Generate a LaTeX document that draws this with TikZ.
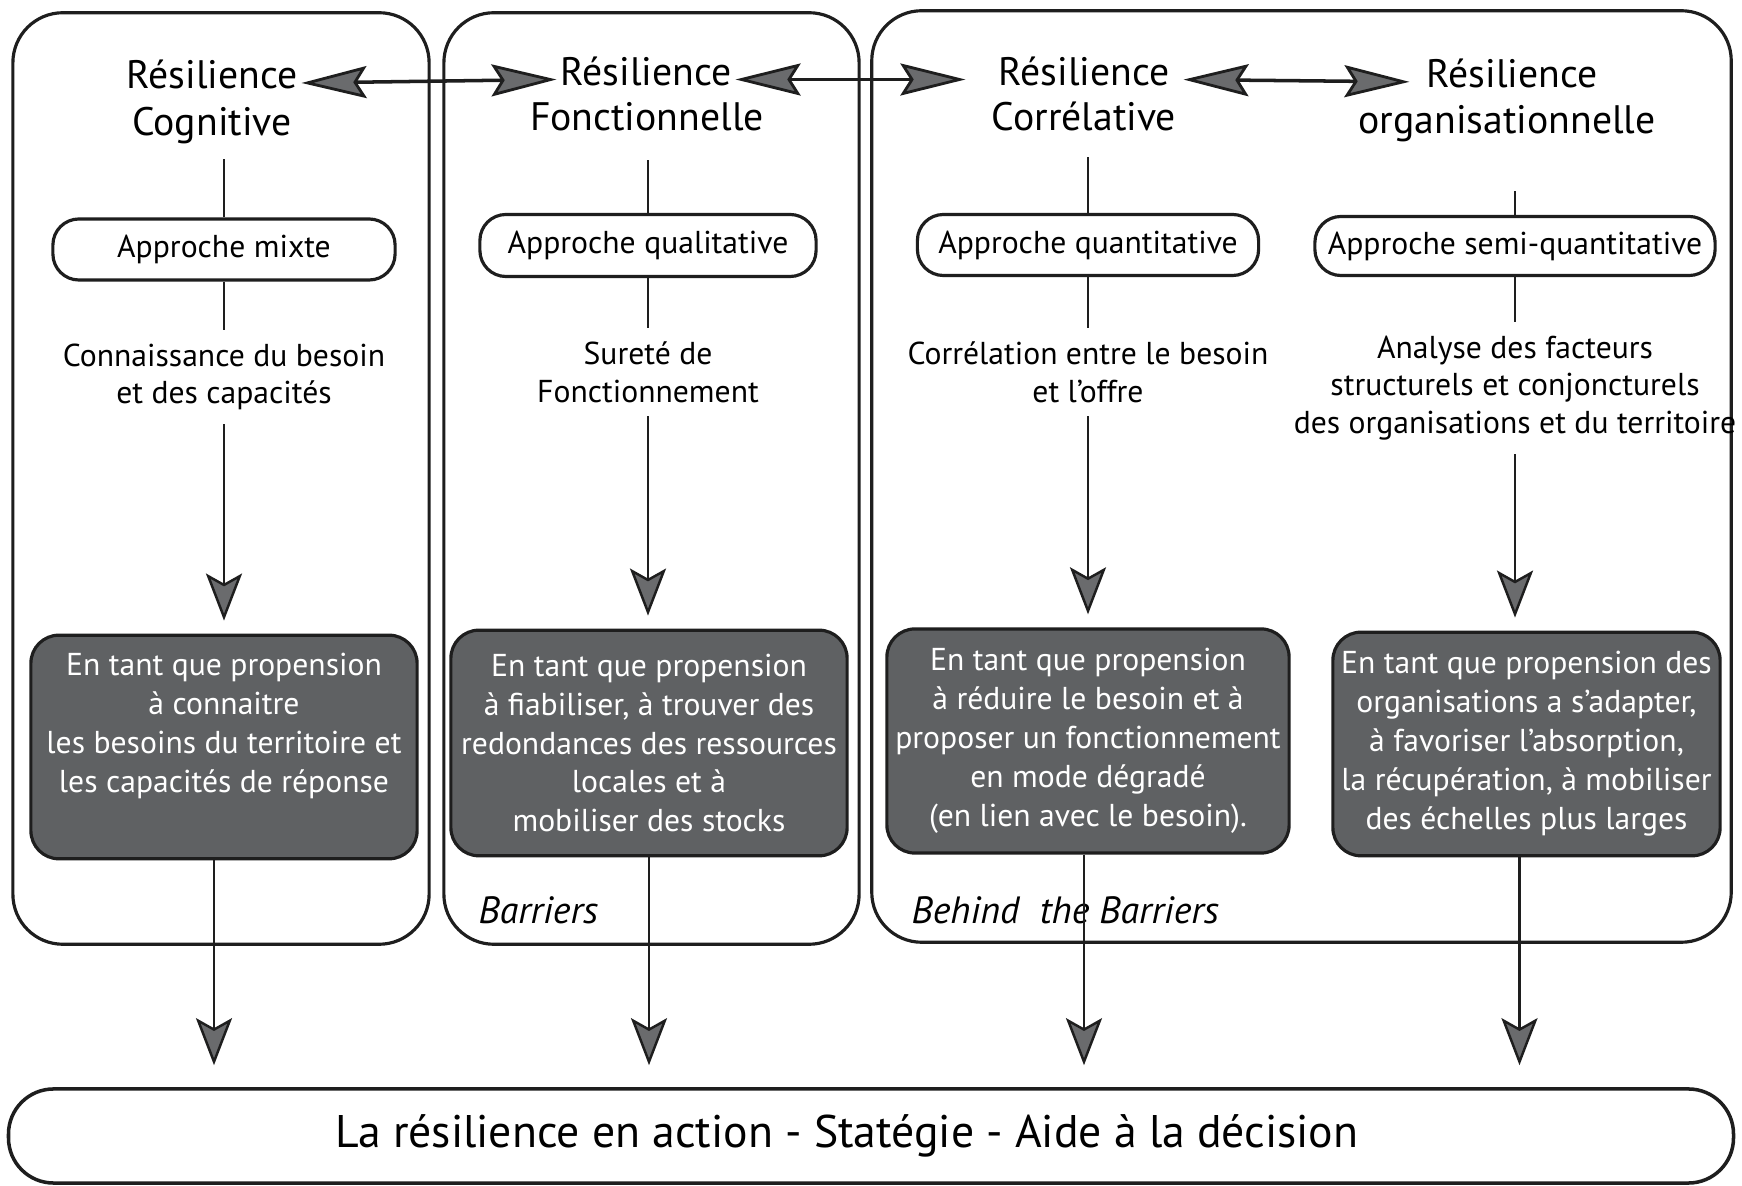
\documentclass[tikz,border=0pt]{standalone}
\usepackage{fontspec}
\setmainfont{PT Sans}
\usepackage{tikz}
\usetikzlibrary{arrows.meta, positioning, calc}
\definecolor{boxgray}{HTML}{5F6163}
\definecolor{tipgray}{HTML}{6A6B6D}
\definecolor{lineA}{HTML}{1E1E1E}
\tikzset{
  panel/.style={
    draw=lineA, line width=0.9pt, rounded corners=0.5cm, inner sep=0pt
  },
  ttl/.style={
    font=\fontsize{11.3}{13.6}\selectfont, inner sep=1pt, anchor=base
  },
  approach/.style={
    draw=lineA, line width=0.9pt, rounded corners=0.26cm, inner sep=0pt,
    font=\fontsize{9}{11}\selectfont
  },
  descr/.style={
    align=center, inner sep=3.7pt, font=\fontsize{9}{10.75}\selectfont
  },
  propbox/.style={
    draw=lineA, fill=boxgray, text=white, line width=0.9pt,
    rounded corners=0.28cm, align=center, inner sep=0pt,
    minimum height=2.24cm, font=\fontsize{9}{11.07}\selectfont
  },
  goal/.style={
    draw=lineA, line width=1pt, rounded corners=0.45cm, inner sep=0pt,
    font=\fontsize{13}{15}\selectfont
  },
  zone/.style={
    anchor=base west, inner sep=0pt, font=\fontsize{10.8}{13}\selectfont\itshape
  },
  link/.style={draw=lineA, line width=0.7pt},
  flow/.style={link, -{Stealth[length=4.7mm, width=3.6mm, inset=1mm, fill=tipgray]}},
  mutual/.style={link, line width=1pt,
    {Stealth[length=6.5mm, width=3.2mm, inset=1mm, fill=tipgray, line width=0.8pt]}-{Stealth[length=6.5mm, width=3.2mm, inset=1mm, fill=tipgray, line width=0.8pt]}}
}

\begin{document}
\begin{tikzpicture}[x=0.01cm, y=-0.01cm]
  \fill[white] (0,0) rectangle (1742,1186);
  \useasboundingbox (0,0) rectangle (1742,1186);

  % panels
  \node[panel, minimum width=4.16cm, minimum height=9.31cm] (p1) at (221,478.5) {};
  \node[panel, minimum width=4.15cm, minimum height=9.31cm] (p2) at (651.5,478.5) {};
  \node[panel, minimum width=8.59cm, minimum height=9.31cm] (p3) at (1301.5,476.5) {};

  % titles
  \node[ttl] (r1) at (212,89) {Résilience};
  \node[ttl] (n1) at (212,135.5) {Cognitive};
  \node[ttl] (r2) at (646,85.5) {Résilience};
  \node[ttl] (n2) at (647,131) {Fonctionnelle};
  \node[ttl] (r3) at (1084,85.5) {Résilience};
  \node[ttl] (n3) at (1084,131) {Corrélative};
  \node[ttl] (r4) at (1512,88) {Résilience};
  \node[ttl] (n4) at (1507,133.3) {organisationnelle};

  \draw[mutual] ([yshift=0.06cm]r1.base east) -- ([yshift=0.06cm]r2.base west);
  \draw[mutual, shorten >=0.29cm] ([yshift=0.06cm]r2.base east) -- ([yshift=0.06cm]r3.base west);
  \draw[mutual, shorten <=0.1cm, shorten >=0.13cm] ([yshift=0.06cm]r3.base east) -- ([yshift=0.06cm]r4.base west);

  % approaches
  \node[approach, minimum width=3.42cm, minimum height=0.61cm] (a1) at (224,249.5) {Approche mixte};
  \node[approach, minimum width=3.36cm, minimum height=0.62cm] (a2) at (648,245.5) {Approche qualitative};
  \node[approach, minimum width=3.41cm, minimum height=0.61cm] (a3) at (1088,245) {Approche quantitative};
  \node[approach, minimum width=4.0cm, minimum height=0.59cm] (a4) at (1515,246) {Approche semi-quantitative};

  \draw[link, shorten >=0.11cm] (a1.north) -- (a1.north |- n1.south);
  \draw[link, shorten >=0.245cm] (a2.north) -- (a2.north |- n2.south);
  \draw[link, shorten >=0.21cm] (a3.north) -- (a3.north |- n3.south);
  \draw[link, shorten >=0.45cm] (a4.north) -- (a4.north |- n4.south);

  % descriptions
  \node[descr] (d1) at (224,377) {Connaissance du besoin\\et des capacités};
  \node[descr] (d2) at (648,372) {Sureté de\\Fonctionnement};
  \node[descr] (d3) at (1088,372) {Corrélation entre le besoin\\et l’offre};
  \node[descr] (d4) at (1515,388) {Analyse des facteurs\\structurels et conjoncturels\\des organisations et du territoire};

  \draw[link] (a1.south) -- (a1.south |- d1.north);
  \draw[link] (a2.south) -- (a2.south |- d2.north);
  \draw[link] (a3.south) -- (a3.south |- d3.north);
  \draw[link] (a4.south) -- (a4.south |- d4.north);

  % propension boxes
  \node[propbox, minimum width=3.86cm, minimum height=2.235cm] (g1) at (224,747)
    {En tant que propension\\à connaitre\\les besoins du territoire et\\les capacités de réponse\\[0.1cm]\mbox{}};
  \node[propbox, minimum width=3.96cm, minimum height=2.255cm] (g2) at (649,743)
    {En tant que propension\\à fiabiliser,  à trouver des\\redondances des ressources\\locales et à\\mobiliser des stocks};
  \node[propbox, minimum width=4.02cm] (g3) at (1088,741)
    {En tant que propension\\à réduire le besoin et à\\proposer un fonctionnement\\en mode dégradé\\(en lien avec le besoin).};
  \node[propbox, minimum width=3.87cm, minimum height=2.235cm] (g4) at (1526.5,744)
    {En tant que propension des\\organisations a s’adapter,\\à favoriser l’absorption,\\la récupération, à mobiliser\\des échelles plus larges};

  \draw[flow, shorten >=0.13cm] (d1.south) -- (d1.south |- g1.north);
  \draw[flow, shorten >=0.13cm] (d2.south) -- (d2.south |- g2.north);
  \draw[flow, shorten >=0.13cm] (d3.south) -- (d3.south |- g3.north);
  \draw[flow, shorten >=0.13cm] (d4.south) -- (d4.south |- g4.north);

  % zones
  \node[zone] (bar) at (478,924) {Barriers};
  \node[zone] (behind) at (911,924) {Behind\ \ the Barriers};

  % action
  \node[goal, minimum width=17.24cm, minimum height=0.94cm] (bot) at (871,1136)
    {La résilience en action - Statégie - Aide à la décision\hspace*{0.48cm}};

  \draw[flow, shorten >=0.22cm] ([xshift=-0.1cm]g1.south) coordinate (e1) -- (e1 |- bot.north);
  \draw[flow, shorten >=0.22cm] (g2.south) -- (g2.south |- bot.north);
  \draw[flow, shorten >=0.22cm] ([xshift=-0.04cm]g3.south) coordinate (e3) -- (e3 |- bot.north);
  \draw[flow, shorten >=0.22cm] ([xshift=-0.07cm]g4.south) coordinate (e4) -- (e4 |- bot.north);
\end{tikzpicture}
\end{document}
